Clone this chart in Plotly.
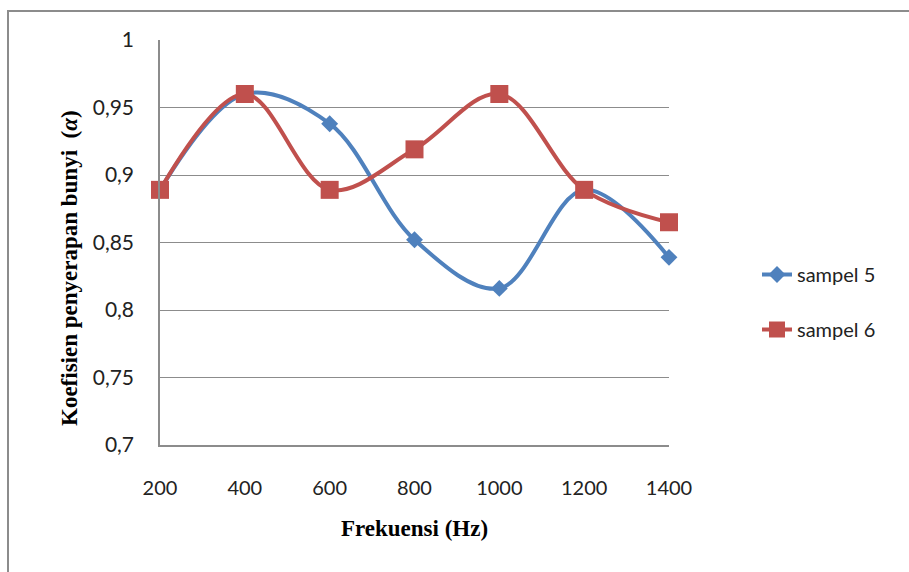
import plotly.graph_objects as go

freq = [200, 400, 600, 800, 1000, 1200, 1400]
sampel5 = [0.889, 0.960, 0.938, 0.852, 0.816, 0.889, 0.839]
sampel6 = [0.889, 0.960, 0.889, 0.919, 0.960, 0.889, 0.865]
y_ticks = [0.7, 0.75, 0.8, 0.85, 0.9, 0.95, 1.0]
y_ticktext = ["0,7", "0,75", "0,8", "0,85", "0,9", "0,95", "1"]
x_ticks = [200, 400, 600, 800, 1000, 1200, 1400]

W, H = 909, 572
ML, MR, MT, MB = 160, 240, 40, 127
PW, PH = W - ML - MR, H - MT - MB

fig = go.Figure()
fig.add_trace(go.Scatter(
    x=freq, y=sampel5, name="sampel 5", mode="lines+markers",
    line=dict(color="#4F81BD", width=4, shape="spline", smoothing=1),
    marker=dict(symbol="diamond", size=13, color="#4F81BD"),
    cliponaxis=False, legendgroup="a"))
fig.add_trace(go.Scatter(
    x=freq, y=sampel6, name="sampel 6", mode="lines+markers",
    line=dict(color="#C0504D", width=4, shape="spline", smoothing=1),
    marker=dict(symbol="square", size=18, color="#C0504D"),
    cliponaxis=False, legendgroup="b"))

tick_font = dict(family="Lato, 'Open Sans', sans-serif", size=20, color="#222")

fig.update_layout(
    width=W, height=H,
    margin=dict(l=ML, r=MR, t=MT, b=MB),
    paper_bgcolor="white", plot_bgcolor="white",
    xaxis=dict(range=[200, 1400], tickvals=x_ticks, showgrid=False,
               showline=True, linecolor="#8c8c8c", linewidth=1.5,
               ticks="", ticklabelstandoff=24, tickfont=tick_font,
               zeroline=False,
               title=dict(text="<b>Frekuensi (Hz)</b>",
                          font=dict(family="Liberation Serif, serif", size=23, color="#000"),
                          standoff=22)),
    yaxis=dict(range=[0.7, 1.0], tickvals=y_ticks, ticktext=y_ticktext,
               showgrid=True, gridcolor="#8c8c8c", gridwidth=1,
               showline=True, linecolor="#8c8c8c", linewidth=1.5,
               ticks="", ticklabelstandoff=20, tickfont=dict(tick_font, size=21),
               zeroline=False),
    legend=dict(x=(757 - ML) / PW, y=1 - (255 - MT) / PH, xanchor="left", yanchor="top",
                font=dict(family="Lato, 'Open Sans', sans-serif", size=20, color="#222"),
                tracegroupgap=26, traceorder="grouped", bgcolor="rgba(0,0,0,0)"),
    showlegend=True,
)

fig.add_annotation(
    text="<b>Koefisien penyerapan bunyi  (<i>α</i>)</b>",
    xref="paper", yref="paper",
    x=(69 - ML) / PW, y=1 - (268 - MT) / PH,
    xanchor="center", yanchor="middle", textangle=-90, showarrow=False,
    font=dict(family="Liberation Serif, serif", size=23, color="#000"))

# outer chart border (cropped at right and bottom)
fig.add_shape(type="rect", xref="paper", yref="paper",
              x0=(8 - ML) / PW, x1=(915 - ML) / PW,
              y0=1 - (580 - MT) / PH, y1=1 - (11 - MT) / PH,
              line=dict(color="#8c8c8c", width=2), fillcolor="rgba(0,0,0,0)",
              layer="below")

fig.write_html("out.html")
